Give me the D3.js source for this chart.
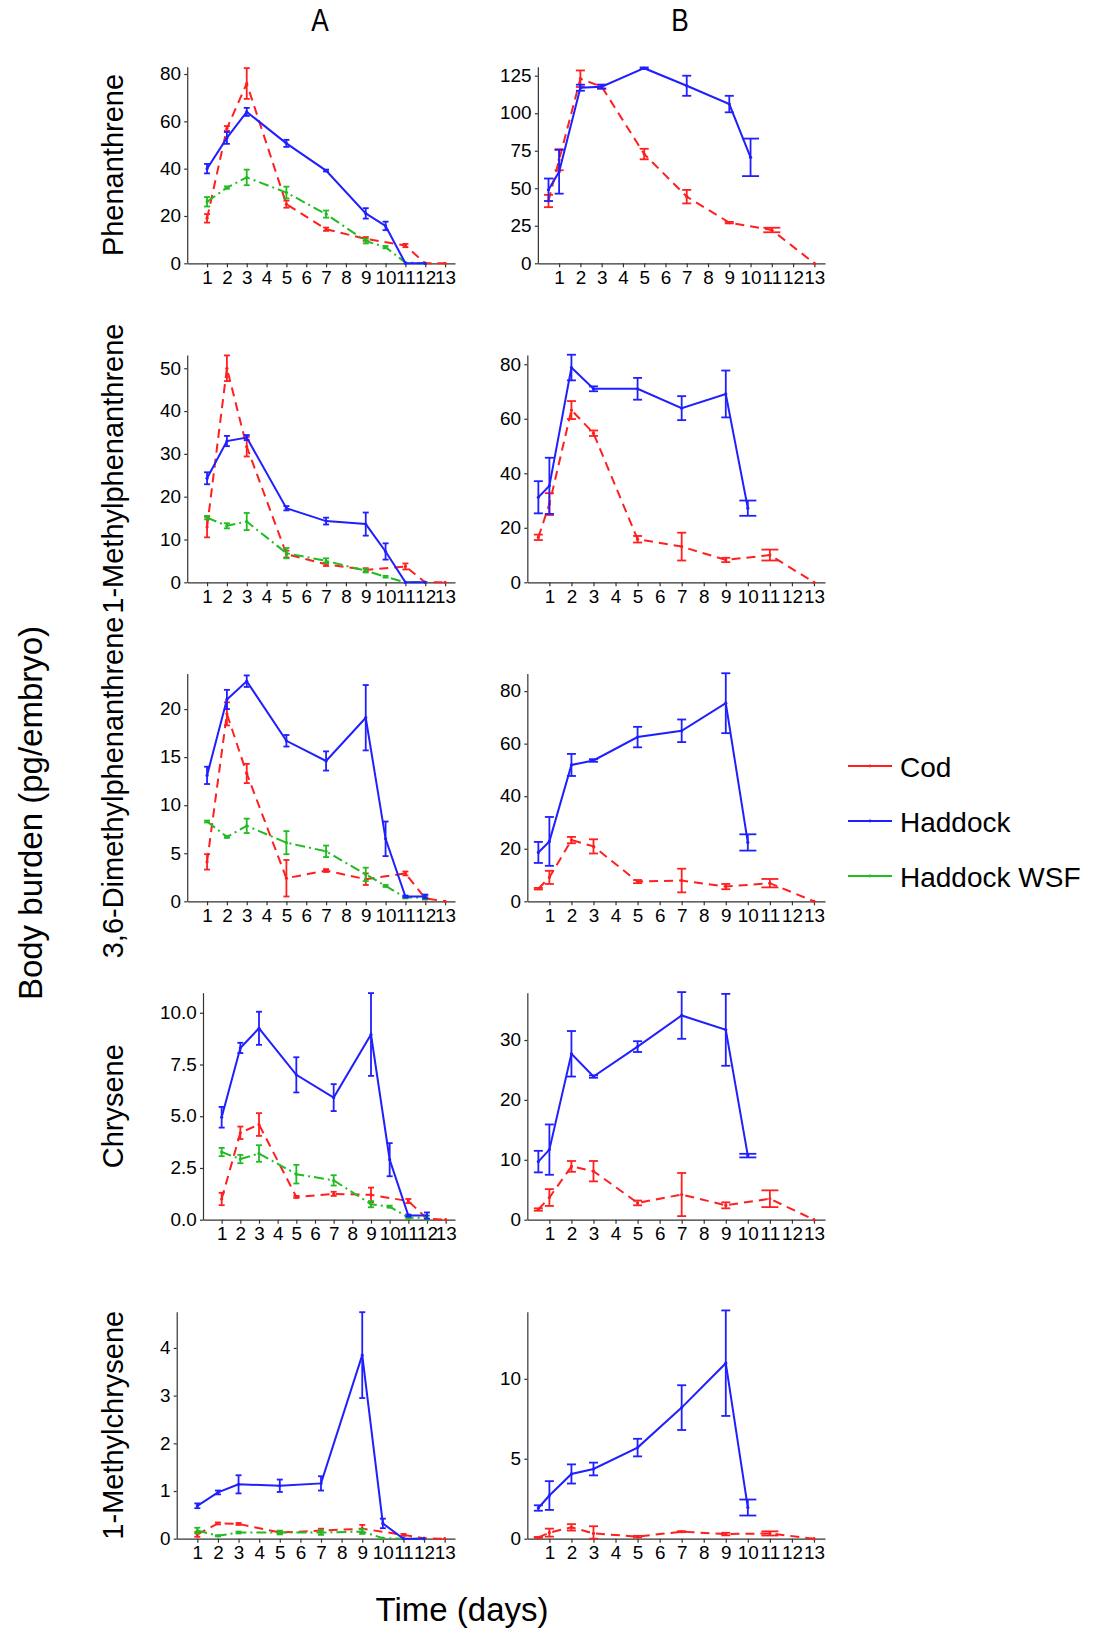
<!DOCTYPE html>
<html>
<head>
<meta charset="utf-8">
<script src="https://cdn.jsdelivr.net/npm/d3@7"></script>
<style>
  body { margin: 0; background: #fff; }
  text { font-family: "Liberation Sans", Arial, sans-serif; fill: #000; }
</style>
</head>
<body>
<script>
// ---- data ----
var compounds = ["Phenanthrene", "1-Methylphenanthrene", "3,6-Dimethylphenanthrene", "Chrysene", "1-Methylchrysene"];
var seriesNames = ["Cod", "Haddock", "Haddock WSF"];
var daysA = [1, 2, 3, 5, 7, 9, 10, 11, 12, 13];
var daysB = [0.5, 1, 2, 3, 5, 7, 9, 10, 11, 13];
var xTicks = [1, 2, 3, 4, 5, 6, 7, 8, 9, 10, 11, 12, 13];

// column A, one row per compound (days in daysA)
var codA = [
  [19, 57, 76, 25, 14.4, 10.3, null, 7.5, 0, 0],
  [12.9, 50, 31.7, 6.6, 4.2, 2.9, null, 3.7, 0, 0],
  [4.1, 19.5, 13.3, 2.4, 3.2, 2.3, null, 2.9, 0.3, 0],
  [1.0, 4.2, 4.6, 1.1, 1.25, 1.2, null, 0.9, 0.05, 0],
  [0.09, 0.32, 0.31, 0.13, 0.17, 0.21, null, 0.08, 0.01, 0]
];
var codA_se = [
  [1.8, 1.0, 6.5, 1.5, 0.7, 0.8, null, 0.7, 0, 0],
  [2.4, 3.0, 2.3, 0.8, 0.4, 0.4, null, 0.7, 0, 0],
  [0.8, 1.2, 1.0, 1.9, 0.15, 0.6, null, 0.2, 0.1, 0],
  [0.3, 0.3, 0.55, 0.05, 0.1, 0.35, null, 0.1, 0, 0],
  [0.05, 0.02, 0.02, 0.02, 0.04, 0.08, null, 0.02, 0, 0]
];
var hadA = [
  [40, 53, 64, 50.7, 39.2, 21.1, 15.8, 0, 0, null],
  [24.3, 33.0, 33.8, 17.3, 14.3, 13.6, 7.2, 0, 0, null],
  [13.1, 21.0, 22.9, 16.7, 14.6, 19.1, 6.5, 0.5, 0.5, null],
  [4.95, 8.3, 9.25, 7.0, 5.9, 8.95, 2.9, 0.2, 0.2, null],
  [0.69, 0.97, 1.14, 1.11, 1.16, 3.85, 0.32, 0, 0, null]
];
var hadA_se = [
  [2.0, 2.5, 1.7, 1.5, 0.4, 2.2, 1.8, 0, 0, null],
  [1.4, 1.2, 0.6, 0.5, 0.8, 2.7, 1.9, 0, 0, null],
  [0.9, 1.0, 0.6, 0.6, 1.0, 3.4, 1.8, 0.1, 0.2, null],
  [0.5, 0.25, 0.8, 0.85, 0.65, 2.0, 0.8, 0.05, 0.15, null],
  [0.05, 0.04, 0.19, 0.13, 0.15, 0.9, 0.1, 0, 0, null]
];
var wsfA = [
  [26, 32, 36.3, 29.9, 20.8, 9.4, 6.8, 0.3, 0, null],
  [15.1, 13.2, 14.2, 6.8, 5.0, 2.7, 1.3, 0, 0, null],
  [8.3, 6.7, 7.85, 6.1, 5.2, 2.8, 1.6, 0.4, 0.4, null],
  [3.27, 2.93, 3.2, 2.2, 1.9, 0.75, 0.63, 0.1, 0.1, null],
  [0.17, 0.06, 0.13, 0.13, 0.13, 0.15, 0.01, 0, 0, null]
];
var wsfA_se = [
  [2.0, 0.5, 3.3, 2.5, 1.5, 1.0, 0.5, 0, 0, null],
  [0.4, 0.6, 2.0, 1.2, 0.6, 0.4, 0.2, 0, 0, null],
  [0.1, 0.1, 0.75, 1.2, 0.6, 0.7, 0.1, 0.1, 0.2, null],
  [0.2, 0.2, 0.4, 0.45, 0.25, 0.15, 0.05, 0.05, 0.1, null],
  [0.06, 0.01, 0.02, 0.04, 0.05, 0.05, 0, 0, 0, null]
];

// column B (days in daysB)
var codB = [
  [41.5, 69, 123, 117.7, 72.8, 44.4, 27.1, null, 22.2, 0],
  [16.5, 28.7, 63.2, 54.7, 15.8, 13.1, 8.2, null, 10.0, 0],
  [4.8, 9.1, 23.3, 20.9, 7.5, 7.9, 5.6, null, 6.9, 0],
  [1.7, 3.7, 8.9, 8.1, 2.8, 4.2, 2.4, null, 3.5, 0],
  [0.08, 0.38, 0.71, 0.33, 0.13, 0.44, 0.29, null, 0.33, 0]
];
var codB_se = [
  [4.1, 7, 5.5, 1.3, 3.5, 4.5, 0.5, null, 1.5, 0],
  [1, 4, 3.3, 1, 1.2, 5.1, 0.8, null, 2, 0],
  [0.3, 2.5, 1.2, 2.7, 0.6, 4.5, 1.0, null, 1.6, 0],
  [0.2, 1.4, 0.9, 1.7, 0.4, 3.6, 0.5, null, 1.4, 0],
  [0.03, 0.25, 0.2, 0.45, 0.05, 0.03, 0.08, null, 0.13, 0]
];
var hadB = [
  [49, 61, 117, 117.7, 130, 118.3, 106.1, 70.6, null, null],
  [31.2, 35.4, 78.8, 71, 71, 63.9, 69.1, 27.2, null, null],
  [18.6, 22.8, 51.9, 53.6, 62.5, 64.9, 75.4, 22.4, null, null],
  [9.7, 11.7, 27.7, 23.9, 28.9, 34.1, 31.7, 10.7, null, null],
  [1.92, 2.7, 4.05, 4.36, 5.7, 8.2, 10.98, 1.95, null, null]
];
var hadB_se = [
  [7.5, 14.6, 2, 1.3, 0.5, 6.7, 5.5, 12.5, null, null],
  [5.9, 10.3, 4.7, 0.9, 4, 4.4, 8.6, 2.8, null, null],
  [4, 9.3, 4.2, 0.5, 3.9, 4.3, 11.4, 3.1, null, null],
  [1.8, 4.2, 3.8, 0.2, 0.9, 3.9, 6.0, 0.3, null, null],
  [0.17, 0.9, 0.6, 0.4, 0.55, 1.4, 3.3, 0.5, null, null]
];

// y axes
var yMaxA = [83.1, 53.1, 23.7, 10.97, 4.76];
var yTicksA = [[0, 20, 40, 60, 80], [0, 10, 20, 30, 40, 50], [0, 5, 10, 15, 20], [0, 2.5, 5, 7.5, 10], [0, 1, 2, 3, 4]];
var yMaxB = [131, 83.4, 86.7, 37.9, 14.2];
var yTicksB = [[0, 25, 50, 75, 100, 125], [0, 20, 40, 60, 80], [0, 20, 40, 60, 80], [0, 10, 20, 30], [0, 5, 10]];

// ---- layout ----
var width = 1102, height = 1629;
var rowTop = [66.7, 355, 673.5, 992.7, 1311.7],
    rowBottom = [263.3, 582.3, 901.3, 1219.7, 1538.7];
var labelLeft = [159.2, 499.3], colRight = [455, 825];
var tickFont = 18, tickStretch = 1.05;

var styles = {
  "Cod":         {color: "#ff1f1f", dash: "9,6"},
  "Haddock":     {color: "#1f1fff", dash: null},
  "Haddock WSF": {color: "#22bb22", dash: "10,4,2,4"}
};

var svg = d3.select("body").append("svg")
    .attr("width", width)
    .attr("height", height);

svg.append("rect").attr("width", width).attr("height", height).attr("fill", "#fff");

function textWidth(str, size) {
  var t = svg.append("text").style("font-size", size + "px").text(str);
  var w = t.node().getComputedTextLength();
  t.remove();
  return w;
}

function makePanel(row, col, days, series, yMax, yTicks, fmt) {
  var maxW = d3.max(yTicks, function(v) { return textWidth(fmt(v), tickFont); }) * tickStretch;
  var left = labelLeft[col] + maxW + 7;
  var right = colRight[col];
  var top = rowTop[row], bottom = rowBottom[row];

  var x = d3.scaleLinear().domain([0, 13.5]).range([left, right]);
  var y = d3.scaleLinear().domain([0, yMax]).range([bottom, top]);

  var g = svg.append("g");

  var yAxis = g.append("g")
      .attr("transform", "translate(" + left + ",0)")
      .call(d3.axisLeft(y).tickValues(yTicks).tickFormat(fmt).tickSize(3).tickPadding(3).tickSizeOuter(0));
  var xAxis = g.append("g")
      .attr("transform", "translate(0," + bottom + ")")
      .call(d3.axisBottom(x).tickValues(xTicks).tickFormat(d3.format("d")).tickSize(4).tickPadding(4).tickSizeOuter(0));

  [yAxis, xAxis].forEach(function(a) {
    a.selectAll("path, line").attr("stroke", "#333").attr("stroke-width", 1.2);
    a.selectAll("text")
      .style("font-size", tickFont + "px")
      .style("font-family", "'Liberation Sans', Arial, sans-serif")
      .attr("fill", "#000")
      .attr("transform", "scale(" + tickStretch + ",1)");
  });

  series.forEach(function(s) {
    var st = styles[s.name];
    var pts = [];
    days.forEach(function(d, i) {
      if (s.mean[i] != null) pts.push({x: d, v: s.mean[i], se: s.se[i] || 0});
    });

    var line = d3.line()
        .x(function(d) { return x(d.x); })
        .y(function(d) { return y(d.v); });

    g.append("path")
        .datum(pts)
        .attr("d", line)
        .attr("fill", "none")
        .attr("stroke", st.color)
        .attr("stroke-width", 2)
        .attr("stroke-dasharray", st.dash);

    var bars = g.selectAll(null)
        .data(pts.filter(function(d) { return d.se > 0; }))
        .enter().append("g")
        .attr("stroke", st.color)
        .attr("stroke-width", 1.8);

    function capW(d) {
      if (col === 0) return 3;
      return d.x >= 10 ? 8.5 : 4.5;
    }
    function lo(d) { return y(Math.max(0, d.v - d.se)); }
    function hi(d) { return y(d.v + d.se); }

    bars.append("line")
        .attr("x1", function(d) { return x(d.x); })
        .attr("x2", function(d) { return x(d.x); })
        .attr("y1", lo)
        .attr("y2", hi);
    bars.append("line")
        .attr("x1", function(d) { return x(d.x) - capW(d); })
        .attr("x2", function(d) { return x(d.x) + capW(d); })
        .attr("y1", hi).attr("y2", hi);
    bars.append("line")
        .attr("x1", function(d) { return x(d.x) - capW(d); })
        .attr("x2", function(d) { return x(d.x) + capW(d); })
        .attr("y1", lo).attr("y2", lo);

    g.selectAll(null)
        .data(pts)
        .enter().append("circle")
        .attr("cx", function(d) { return x(d.x); })
        .attr("cy", function(d) { return y(d.v); })
        .attr("r", 1.6)
        .attr("fill", st.color);
  });
}

compounds.forEach(function(name, r) {
  var fmtA = (r === 3) ? d3.format(".1f") : d3.format("d");
  makePanel(r, 0, daysA, [
    {name: "Cod", mean: codA[r], se: codA_se[r]},
    {name: "Haddock WSF", mean: wsfA[r], se: wsfA_se[r]},
    {name: "Haddock", mean: hadA[r], se: hadA_se[r]}
  ], yMaxA[r], yTicksA[r], fmtA);

  makePanel(r, 1, daysB, [
    {name: "Cod", mean: codB[r], se: codB_se[r]},
    {name: "Haddock", mean: hadB[r], se: hadB_se[r]}
  ], yMaxB[r], yTicksB[r], d3.format("d"));

  // row label
  var cy = (rowTop[r] + rowBottom[r]) / 2;
  svg.append("text")
      .attr("transform", "translate(123," + cy + ") rotate(-90)")
      .attr("text-anchor", "middle")
      .style("font-size", "29px")
      .text(name);
});

// column titles
[["A", 320], ["B", 680]].forEach(function(t) {
  svg.append("text")
      .attr("transform", "translate(" + t[1] + ",31) scale(0.82,1)")
      .attr("text-anchor", "middle")
      .style("font-size", "32px")
      .text(t[0]);
});

// outer axis titles
svg.append("text")
    .attr("transform", "translate(41.5,813) rotate(-90)")
    .attr("text-anchor", "middle")
    .style("font-size", "33px")
    .text("Body burden (pg/embryo)");

svg.append("text")
    .attr("x", 462)
    .attr("y", 1621)
    .attr("text-anchor", "middle")
    .style("font-size", "33px")
    .text("Time (days)");

// legend
var legend = svg.append("g").attr("transform", "translate(848,766)");
var item = legend.selectAll("g")
    .data(seriesNames)
    .enter().append("g")
    .attr("transform", function(d, i) { return "translate(0," + (i * 55) + ")"; });

item.append("line")
    .attr("x1", 0).attr("x2", 44)
    .attr("stroke", function(d) { return styles[d].color; })
    .attr("stroke-width", 1.8);
item.append("circle")
    .attr("cx", 22).attr("r", 1.4)
    .attr("fill", function(d) { return styles[d].color; });
item.append("text")
    .attr("x", 52).attr("y", 11)
    .style("font-size", "28px")
    .text(function(d) { return d; });
</script>
</body>
</html>
